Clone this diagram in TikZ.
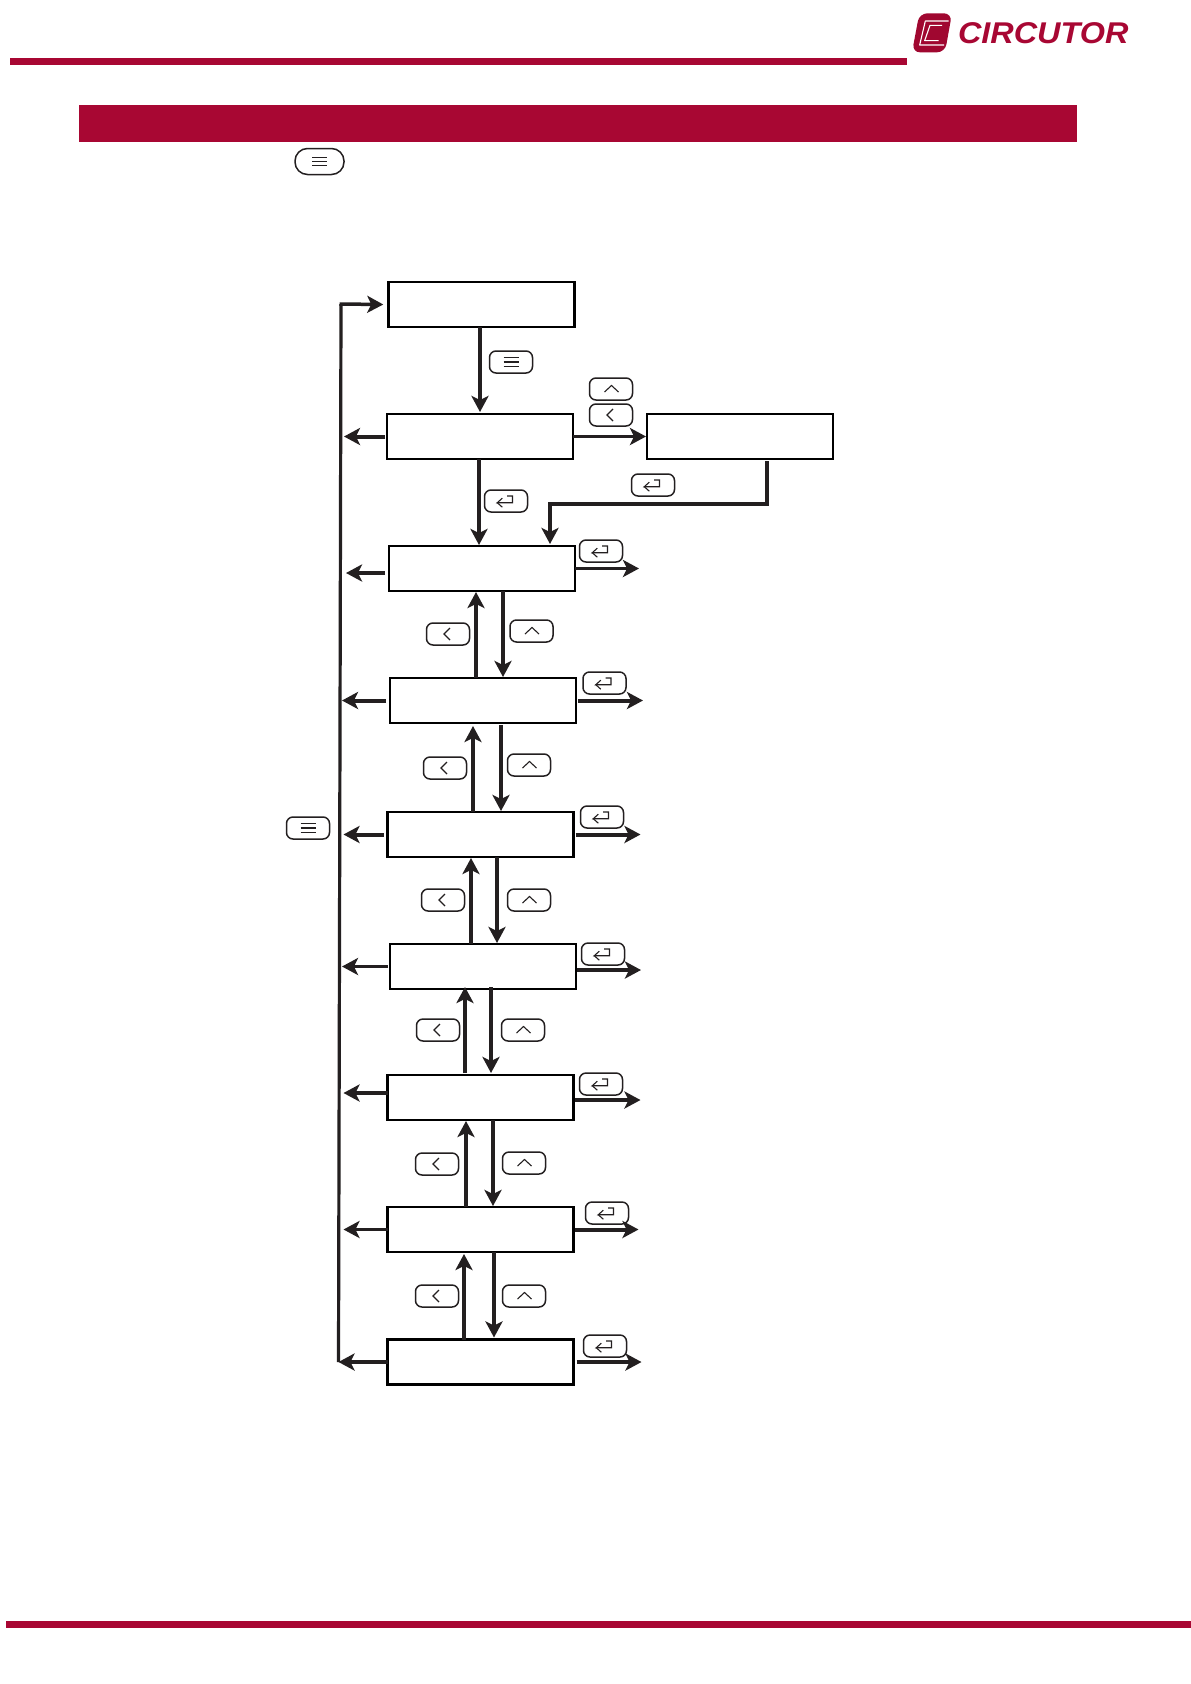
\documentclass[tikz,border=0pt]{standalone}
\usepackage{fontspec}
\setmainfont{Liberation Sans}
\usetikzlibrary{arrows.meta}
\definecolor{brand}{HTML}{A80733}
\definecolor{ink}{HTML}{231F20}
\tikzset{
  x=1pt,y=-1pt,
  every node/.style={inner sep=0pt,outer sep=0pt},
  screen/.style={draw=black,line width=2.7pt,minimum width=186pt,minimum height=45pt},
  keybox/.style={draw=ink,line width=1.5pt,rounded corners=6.5pt,minimum width=43pt,minimum height=22pt},
  keyglyph/.style={draw=ink,line width=1.1pt,sharp corners,line cap=butt,line join=miter},
  menukey/.style={keybox,path picture={
    \draw[keyglyph] ([shift={(-7.5,-4.3)}]path picture bounding box.center) -- ++(15,0);
    \draw[keyglyph] ([shift={(-7.5,0)}]path picture bounding box.center) -- ++(15,0);
    \draw[keyglyph] ([shift={(-7.5,4.3)}]path picture bounding box.center) -- ++(15,0);}},
  enterkey/.style={keybox,path picture={
    \draw[keyglyph] ([shift={(1,-5)}]path picture bounding box.center) -- ++(5.5,0) -- ++(0,6.7) -- ++(-15.2,0) -- ++(5,-4.5);
    \draw[keyglyph] ([shift={(-8.7,1.7)}]path picture bounding box.center) -- ++(5,4.5);}},
  backkey/.style={keybox,path picture={
    \draw[keyglyph] ([shift={(2,-6)}]path picture bounding box.center) -- ++(-6,6) -- ++(6,6);}},
  upkey/.style={keybox,path picture={
    \draw[keyglyph] ([shift={(-6.5,3)}]path picture bounding box.center) -- ++(7,-6.5) -- ++(7,6.5);}},
  conn/.style={draw=ink,line width=3.2pt,-{Stealth[length=16pt,width=17pt,inset=4pt]}},
  connw/.style={conn,line width=4pt},
  connm/.style={conn,line width=3.5pt},
  barfill/.style={fill=brand,draw=none}
}
\begin{document}
\begin{tikzpicture}
\useasboundingbox (0,0) rectangle (1191,1684);
\fill[white] (0,0) rectangle (1191,1684);
% page furniture
\fill[barfill] (10,58) rectangle (907,65);
\fill[barfill] (79,105) rectangle (1077,142);
\fill[barfill] (6,1621) rectangle (1191,1628);
% logo
\begin{scope}[shift={(880,0)},x=0.3333pt,y=-0.3333pt]
  \fill[brand!95!black,rounded corners=8pt] (118,40) -- (216,40) -- (195,157) -- (96,157) -- cycle;
  \draw[white,line width=1.1pt,line join=round] (206,63) -- (136,63) -- (119,135) -- (192,135);
  \draw[white,line width=1.1pt,line join=round] (186,76) -- (150,76) -- (134,122) -- (176,122);
\end{scope}
\node[text=brand,font=\fontsize{30}{30}\selectfont\bfseries\itshape,xscale=1.08,anchor=west] (logotext) at (958,33) {CIRCUTOR};
% screens
\node[screen] (b0) at (481.75,304.5) {};
\node[screen] (b1) at (480,436.5) {};
\node[screen] (bs) at (740,436.5) {};
\node[screen] (b2) at (482,568.5) {};
\node[screen] (b3) at (483,700.5) {};
\node[screen] (b4) at (480.5,834.5) {};
\node[screen] (b5) at (483,966.5) {};
\node[screen] (b6) at (480.5,1097.5) {};
\node[screen] (b7) at (480.5,1229.5) {};
\node[screen] (b8) at (480.5,1362) {};
% keys
\node[menukey,rounded corners=12.5pt,minimum width=49pt,minimum height=26pt] (ktop) at (319.5,161.5) {};
\node[menukey] (kmenu0) at (511,362) {};
\node[menukey] (kmenubus) at (308,828) {};
\node[upkey] (kups) at (611,389) {};
\node[backkey] (kbacks) at (611,415) {};
\node[enterkey] (kent1) at (506,501) {};
\node[enterkey] (kents) at (653,485) {};
\node[enterkey] (kent2) at (601,551) {};
\node[enterkey] (kent3) at (604.5,683) {};
\node[enterkey] (kent4) at (602,817) {};
\node[enterkey] (kent5) at (603,954) {};
\node[enterkey] (kent6) at (601,1084) {};
\node[enterkey] (kent7) at (607,1213) {};
\node[enterkey] (kent8) at (605,1346) {};
\node[backkey] (kb23) at (448,634) {};
\node[upkey] (ku23) at (531.5,631) {};
\node[backkey] (kb34) at (445,768) {};
\node[upkey] (ku34) at (529,765) {};
\node[backkey] (kb45) at (443,900) {};
\node[upkey] (ku45) at (529,900) {};
\node[backkey] (kb56) at (438,1030) {};
\node[upkey] (ku56) at (523,1030) {};
\node[backkey] (kb67) at (437,1164) {};
\node[upkey] (ku67) at (524,1163) {};
\node[backkey] (kb78) at (437,1296) {};
\node[upkey] (ku78) at (524,1296) {};
% return bus
\coordinate (bustop) at (341,304);
\coordinate (busbot) at (338.5,1362);
\draw[draw=ink,line width=3.2pt] (bustop) -- (busbot);
\draw[connm] ([xshift=-1.5pt]bustop) -- ([xshift=-5.5pt]b0.west);
% main flow
\draw[conn] ([xshift=-1.75pt]b0.south) -- ([yshift=2pt]b1.north);
\draw[conn] ([xshift=-1pt]b1.south) -- ([xshift=-3pt,yshift=1pt]b2.north);
\draw[conn] (b1.east) -- ([xshift=-1pt]bs.west);
\coordinate (sidecorner) at (550,504);
\draw[connm] ([xshift=27pt,yshift=-2pt]bs.south) |- (sidecorner) -- ([xshift=68pt,yshift=2pt]b2.north);
% to the bus
\draw[connw] ([xshift=-2pt]b1.west) -- ([xshift=-43pt]b1.west);
\draw[connw] ([xshift=-4pt,yshift=-4.5pt]b2.west) -- ([xshift=-43pt,yshift=-4.5pt]b2.west);
\draw[connw] ([xshift=-4pt]b3.west) -- ([xshift=-48pt]b3.west);
\draw[connw] ([xshift=-4pt]b4.west) -- ([xshift=-44pt]b4.west);
\draw[conn] ([xshift=-2pt]b5.west) -- ([xshift=-48pt]b5.west);
\draw[conn] ([yshift=4.5pt]b6.west) -- ([xshift=-44pt,yshift=4.5pt]b6.west);
\draw[conn] (b7.west) -- ([xshift=-44pt]b7.west);
\draw[connw] (b8.west) -- (busbot);
% onward
\draw[conn] (b2.east) -- ([xshift=64pt]b2.east);
\draw[connw] ([xshift=2pt]b3.east) -- ([xshift=67pt]b3.east);
\draw[connw] ([xshift=2pt]b4.east) -- ([xshift=67pt]b4.east);
\draw[connw] ([xshift=1pt,yshift=-3.5pt]b5.east) -- ([xshift=65pt,yshift=-3.5pt]b5.east);
\draw[connw] ([xshift=1pt,yshift=-2.5pt]b6.east) -- ([xshift=67pt,yshift=-2.5pt]b6.east);
\draw[connw] ([xshift=1pt]b7.east) -- ([xshift=65pt]b7.east);
\draw[connw] ([xshift=3pt]b8.east) -- ([xshift=68pt]b8.east);
% between screens
\draw[connw] ([xshift=-7pt]b3.north) -- ([xshift=-6pt,yshift=-1pt]b2.south);
\draw[connm] ([xshift=21pt]b2.south) -- ([xshift=20pt,yshift=1pt]b3.north);
\draw[conn] ([xshift=-7.5pt]b4.north) -- ([xshift=-10pt,yshift=-3pt]b3.south);
\draw[conn] ([xshift=18pt,yshift=-2pt]b3.south) -- ([xshift=20.5pt,yshift=1pt]b4.north);
\draw[connm] ([xshift=-12pt]b5.north) -- ([xshift=-9.5pt,yshift=-1pt]b4.south);
\draw[conn] ([xshift=16.5pt]b4.south) -- ([xshift=14pt,yshift=1pt]b5.north);
\draw[conn] ([xshift=-15.5pt,yshift=2pt]b6.north) -- ([xshift=-18pt,yshift=2pt]b5.south);
\draw[connm] ([xshift=8pt,yshift=2pt]b5.south) -- ([xshift=10.5pt,yshift=2pt]b6.north);
\draw[connw] ([xshift=-14.5pt]b7.north) -- ([xshift=-14.5pt,yshift=-1pt]b6.south);
\draw[conn] ([xshift=12.5pt]b6.south) -- ([xshift=12.5pt,yshift=1pt]b7.north);
\draw[conn] ([xshift=-16.5pt]b8.north) -- ([xshift=-16.5pt,yshift=-2pt]b7.south);
\draw[conn] ([xshift=13.5pt]b7.south) -- ([xshift=13.5pt,yshift=2pt]b8.north);
\end{tikzpicture}
\end{document}
